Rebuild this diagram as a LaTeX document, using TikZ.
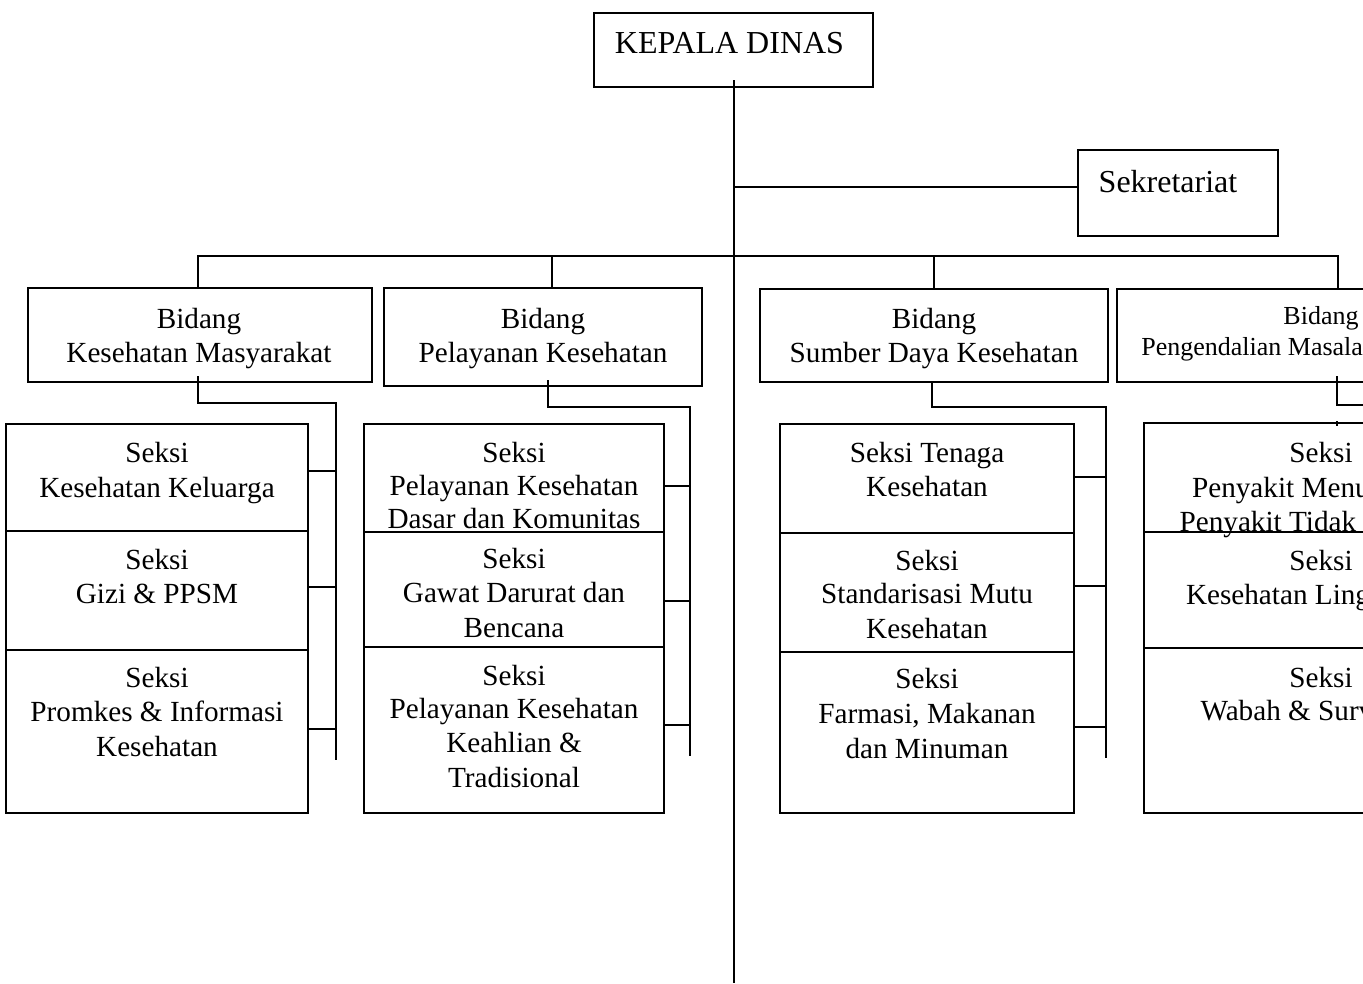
\documentclass[tikz,border=0pt]{standalone}
\usepackage{fontspec}
\setmainfont{Liberation Serif}
\newcommand{\boxat}[5]{\node[boxsty, minimum width={(#4-#2)*0.75pt}, minimum height={(#5-#3)*0.75pt}] (#1) at ({(#2+#4)/2},{(#3+#5)/2}) {};}
\newcommand{\tl}[5][txt]{\node[#1] (#2) at (#3,#4) {#5};}
\begin{document}
\begin{tikzpicture}[x=0.75pt,y=-0.75pt,
  boxsty/.style={draw, line width=1.4pt, inner sep=0pt, outer sep=0pt},
  ln/.style={line width=1.4pt},
  txt/.style={inner sep=0pt, anchor=base, font=\fontsize{21.9}{26}\selectfont},
  txtsm/.style={inner sep=0pt, anchor=base, font=\fontsize{19.5}{23}\selectfont},
  txtbig/.style={inner sep=0pt, anchor=base, font=\fontsize{24}{28}\selectfont}]
\useasboundingbox (0,0) rectangle (1363,983);
\clip (0,0) rectangle (1363,983);

% ---- boxes ----
\boxat{kd}{594}{13}{873}{87}
\boxat{sek}{1078}{150}{1278}{236}
\boxat{bA}{28}{288}{372}{382}
\boxat{bB}{384}{288}{702}{386}
\boxat{bC}{760}{289}{1108}{382}
\boxat{bD}{1117}{289}{1420}{382}
\boxat{sA1}{6}{424}{308}{531}
\boxat{sA2}{6}{531}{308}{650}
\boxat{sA3}{6}{650}{308}{813}
\boxat{sB1}{364}{424}{664}{532}
\boxat{sB2}{364}{532}{664}{647}
\boxat{sB3}{364}{647}{664}{813}
\boxat{sC1}{780}{424}{1074}{533}
\boxat{sC2}{780}{533}{1074}{652}
\boxat{sC3}{780}{652}{1074}{813}
\boxat{sD1}{1144}{423}{1420}{532}
\boxat{sD2}{1144}{532}{1420}{648}
\boxat{sD3}{1144}{648}{1420}{813}

% ---- trunk and secretariat ----
\coordinate (kdin) at (734,80);
\coordinate (trunkend) at (734,983);
\draw[ln] (kdin) -- (trunkend);
\coordinate (sekj) at (734,187);
\draw[ln] (sekj) -- (sekj -| sek.west);

% ---- bus to bidang ----
\coordinate (busL) at (198,256);
\coordinate (busR) at (1338,256);
\draw[ln] (busL |- bA.north) -- (busL) -- (busR) -- (busR |- bD.north);
\coordinate (dB) at (552,256);
\draw[ln] (dB) -- (dB |- bB.north);
\coordinate (dC) at (934,256);
\draw[ln] (dC) -- (dC |- bC.north);

% ---- column A connectors ----
\coordinate (aTop) at (198,376);
\coordinate (aJ) at (198,403);
\coordinate (aR) at (336,403);
\coordinate (aEnd) at (336,760);
\draw[ln] (aTop) -- (aJ) -- (aR) -- (aEnd);
\coordinate (aS1) at (336,471);
\coordinate (aS2) at (336,587);
\coordinate (aS3) at (336,729);
\draw[ln] (aS1 -| sA1.east) -- (aS1);
\draw[ln] (aS2 -| sA2.east) -- (aS2);
\draw[ln] (aS3 -| sA3.east) -- (aS3);

% ---- column B connectors ----
\coordinate (bTop) at (548,380);
\coordinate (bJ) at (548,407);
\coordinate (bR) at (690,407);
\coordinate (bEnd) at (690,756);
\draw[ln] (bTop) -- (bJ) -- (bR) -- (bEnd);
\coordinate (bS1) at (690,486);
\coordinate (bS2) at (690,601);
\coordinate (bS3) at (690,725);
\draw[ln] (bS1 -| sB1.east) -- (bS1);
\draw[ln] (bS2 -| sB2.east) -- (bS2);
\draw[ln] (bS3 -| sB3.east) -- (bS3);

% ---- column C connectors ----
\coordinate (cTop) at (932,382);
\coordinate (cJ) at (932,407);
\coordinate (cR) at (1106,407);
\coordinate (cEnd) at (1106,758);
\draw[ln] (cTop) -- (cJ) -- (cR) -- (cEnd);
\coordinate (cS1) at (1106,477);
\coordinate (cS2) at (1106,586);
\coordinate (cS3) at (1106,727);
\draw[ln] (cS1 -| sC1.east) -- (cS1);
\draw[ln] (cS2 -| sC2.east) -- (cS2);
\draw[ln] (cS3 -| sC3.east) -- (cS3);

% ---- column D connectors ----
\coordinate (dTop) at (1337,376);
\coordinate (dJ) at (1337,405);
\coordinate (dR) at (1420,405);
\draw[ln] (dTop) -- (dJ) -- (dR);
\coordinate (dT1) at (1337,421);
\coordinate (dT2) at (1337,426);
\draw[ln] (dT1) -- (dT2);

% ---- texts ----
\tl[txtbig]{tkd}{729.5}{53}{KEPALA DINAS}
\tl[txtbig]{tsek}{1168}{192}{Sekretariat}

\tl{tbA1}{199}{328}{Bidang}
\tl{tbA2}{199}{362}{Kesehatan Masyarakat}
\tl{tbB1}{543}{328}{Bidang}
\tl{tbB2}{543}{362}{Pelayanan Kesehatan}
\tl{tbC1}{934}{328}{Bidang}
\tl{tbC2}{934}{362}{Sumber Daya Kesehatan}
\tl[txtsm]{tbD1}{1321}{324}{Bidang}
\tl[txtsm]{tbD2}{1316}{355}{Pengendalian Masalah Kesehatan}

\tl{tA11}{157}{462}{Seksi}
\tl{tA12}{157}{497}{Kesehatan Keluarga}
\tl{tA21}{157}{569}{Seksi}
\tl{tA22}{157}{603}{Gizi \& PPSM}
\tl{tA31}{157}{687}{Seksi}
\tl{tA32}{157}{721}{Promkes \& Informasi}
\tl{tA33}{157}{756}{Kesehatan}

\tl{tB11}{514}{462}{Seksi}
\tl{tB12}{514}{495}{Pelayanan Kesehatan}
\tl{tB13}{514}{528}{Dasar dan Komunitas}
\tl{tB21}{514}{568}{Seksi}
\tl{tB22}{514}{602}{Gawat Darurat dan}
\tl{tB23}{514}{637}{Bencana}
\tl{tB31}{514}{685}{Seksi}
\tl{tB32}{514}{718}{Pelayanan Kesehatan}
\tl{tB33}{514}{752}{Keahlian \&}
\tl{tB34}{514}{787}{Tradisional}

\tl{tC11}{927}{462}{Seksi Tenaga}
\tl{tC12}{927}{496}{Kesehatan}
\tl{tC21}{927}{570}{Seksi}
\tl{tC22}{927}{603}{Standarisasi Mutu}
\tl{tC23}{927}{638}{Kesehatan}
\tl{tC31}{927}{688}{Seksi}
\tl{tC32}{927}{723}{Farmasi, Makanan}
\tl{tC33}{927}{758}{dan Minuman}

\tl{tD11}{1321}{462}{Seksi}
\tl{tD12}{1321}{497}{Penyakit Menular dan}
\tl{tD13}{1321}{531}{Penyakit Tidak Menular}
\tl{tD21}{1321}{570}{Seksi}
\tl{tD22}{1321}{604}{Kesehatan Lingkungan}
\tl{tD31}{1321}{687}{Seksi}
\tl{tD32}{1321}{720}{Wabah \& Surveilans}
\end{tikzpicture}
\end{document}
